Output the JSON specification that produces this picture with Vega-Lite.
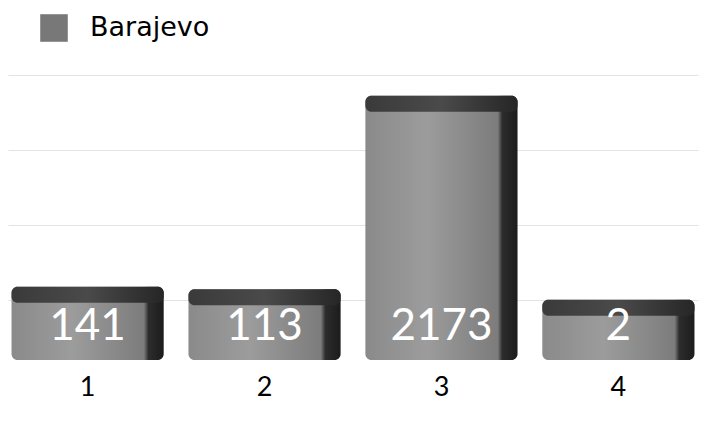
{
  "$schema": "https://vega.github.io/schema/vega-lite/v6.json",
  "autosize": "none",
  "width": 690,
  "height": 300,
  "padding": {"left": 8, "top": 60, "right": 11, "bottom": 63},
  "background": "white",
  "data": {"values": [
    {"category": "1", "value": 141, "series": "Barajevo"},
    {"category": "2", "value": 113, "series": "Barajevo"},
    {"category": "3", "value": 2173, "series": "Barajevo"},
    {"category": "4", "value": 2, "series": "Barajevo"}
  ]},
  "config": {"view": {"stroke": null}},
  "encoding": {
    "x": {"field": "category", "type": "nominal", "sort": null,
      "scale": {"paddingInner": 0.14, "paddingOuter": 0.02},
      "axis": {"title": null, "labelAngle": 0, "domain": false, "ticks": false, "grid": false,
        "labelFont": "Lato", "labelFontSize": 27, "labelColor": "#000", "labelPadding": 14}}
  },
  "layer": [
    {
      "mark": {"type": "bar", "color": "#777777", "opacity": 0},
      "encoding": {
        "y": {"field": "value", "type": "quantitative",
          "scale": {"domain": [-640, 2555], "nice": false, "zero": false},
          "axis": {"title": null, "labels": false, "ticks": false, "domain": false,
            "values": [0, 800, 1600, 2400], "gridColor": "#e3e3e3", "gridWidth": 1}},
        "y2": {"datum": -640},
        "color": {"field": "series", "type": "nominal", "title": null,
          "scale": {"range": ["#787878"]},
          "legend": {"orient": "none", "legendX": 32, "legendY": -46, "symbolType": "square",
            "symbolSize": 760, "symbolStrokeWidth": 0, "symbolOpacity": 1, "labelFont": "DejaVu Sans", "labelFontSize": 27,
            "labelColor": "#000", "labelOffset": 22}}
      }
    },
    {
      "mark": {"type": "bar", "cornerRadius": 6,
        "color": {"gradient": "linear", "x1": 0, "y1": 0, "x2": 1, "y2": 0,
          "stops": [
            {"offset": 0, "color": "#8a8a8a"},
            {"offset": 0.4, "color": "#9c9c9c"},
            {"offset": 0.87, "color": "#7c7c7c"},
            {"offset": 0.9, "color": "#2c2c2c"},
            {"offset": 1, "color": "#1c1c1c"}]}},
      "encoding": {
        "y": {"field": "value", "type": "quantitative"},
        "y2": {"datum": -640}
      }
    },
    {
      "mark": {"type": "bar", "cornerRadius": 6, "y2Offset": 16,
        "color": {"gradient": "linear", "x1": 0, "y1": 0, "x2": 1, "y2": 0,
          "stops": [
            {"offset": 0, "color": "#3a3a3a"},
            {"offset": 0.5, "color": "#4a4a4a"},
            {"offset": 1, "color": "#262626"}]}},
      "encoding": {
        "y": {"field": "value", "type": "quantitative"},
        "y2": {"field": "value"}
      }
    },
    {
      "mark": {"type": "text", "font": "Lato", "fontSize": 44, "color": "#ffffff",
        "baseline": "middle", "dy": -33},
      "encoding": {
        "y": {"datum": -640},
        "text": {"field": "value", "type": "quantitative"}
      }
    }
  ]
}
